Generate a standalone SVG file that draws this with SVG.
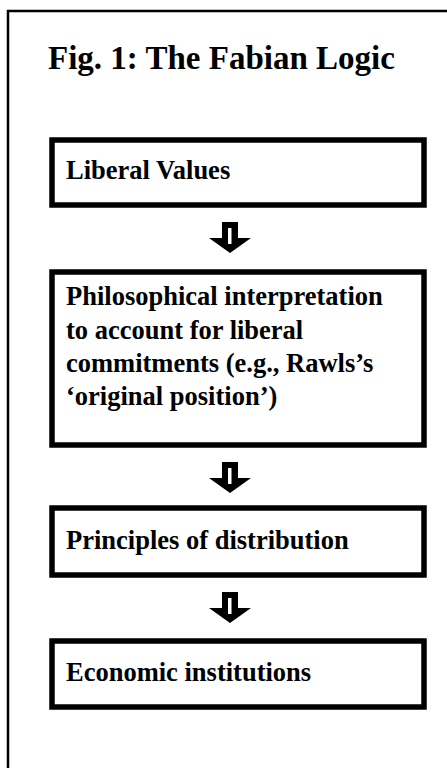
<svg xmlns="http://www.w3.org/2000/svg" width="447" height="768" viewBox="0 0 447 768">
<style>
.frame{fill:none;stroke:#000;stroke-width:2.5}
.box{fill:#fff;stroke:#000;stroke-width:5.5}
.title{font-family:"Liberation Serif","Times New Roman",serif;font-weight:bold;font-size:33px;fill:#000}
.lbl{font-family:"Liberation Serif","Times New Roman",serif;font-weight:bold;font-size:26.5px;fill:#000}
</style>
<defs>
<g id="arrow">
<path d="M-8,0 H8 V16 H21 L0,31 L-21,16 H-8 Z" fill="#000"/>
<rect x="-2" y="6" width="3.5" height="16" fill="#fff"/>
</g>
</defs>
<rect width="447" height="768" fill="#fff"/>
<path class="frame" d="M8,790 V11 H460"/>
<text class="title" x="48" y="69">Fig. 1: The Fabian Logic</text>
<g id="n1">
<rect class="box" x="52" y="140" width="372" height="65"/>
<text class="lbl" x="66" y="179">Liberal Values</text>
</g>
<g id="n2">
<rect class="box" x="52" y="272" width="372" height="173"/>
<text class="lbl" x="66" y="305">Philosophical interpretation</text>
<text class="lbl" x="66" y="339">to account for liberal</text>
<text class="lbl" x="66" y="372">commitments (e.g., Rawls’s</text>
<text class="lbl" x="66" y="405">‘original position’)</text>
</g>
<g id="n3">
<rect class="box" x="52" y="508" width="372" height="67"/>
<text class="lbl" x="66" y="549">Principles of distribution</text>
</g>
<g id="n4">
<rect class="box" x="52" y="641" width="372" height="66"/>
<text class="lbl" x="66" y="681">Economic institutions</text>
</g>
<g id="connectors">
<use href="#arrow" x="230" y="222"/>
<use href="#arrow" x="230" y="462"/>
<use href="#arrow" x="230" y="592"/>
</g>
</svg>
